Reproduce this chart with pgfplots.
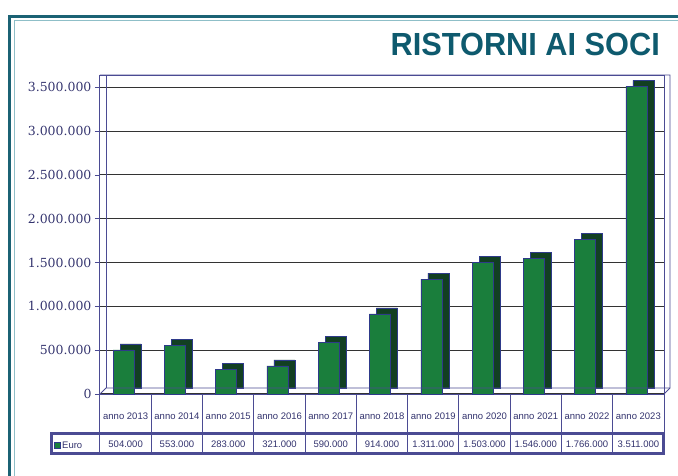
\documentclass[border=0pt]{standalone}
\usepackage{fontspec}
\setmainfont{Liberation Sans}
\newfontfamily\tickfont{DejaVu Serif}
\usepackage{pgfplots}
\usepackage{pgfplotstable}
\pgfplotsset{compat=1.18}

\definecolor{teal1}{HTML}{1B6274}
\definecolor{teal2}{HTML}{8FBFC8}
\definecolor{titleteal}{HTML}{0E5A6E}
\definecolor{barfront}{HTML}{1A7E3C}
\definecolor{barside}{HTML}{123F22}
\definecolor{navy}{HTML}{2E3A8A}
\definecolor{axisnavy}{HTML}{4B4B93}
\definecolor{labnavy}{HTML}{33336E}

% ristorni per anno, in euro
\pgfplotstableread{
x val
0 504000
1 553000
2 283000
3 321000
4 590000
5 914000
6 1311000
7 1503000
8 1546000
9 1766000
10 3511000
}\ristorni

\begin{document}
\begin{tikzpicture}[x=1pt,y=1pt]
\useasboundingbox (-100,-81) rectangle (578,394);
\fill[white] (-100,-81) rectangle (578,394);
\draw[teal1, line width=3pt] (-90,-120) rectangle (620,378);
\draw[teal2, line width=0.8pt] (-85.5,-120) rectangle (620,373.5);
\node[anchor=base east, text=titleteal, inner sep=0pt, xscale=0.96,
      font=\bfseries\fontsize{32}{32}\selectfont] at (560,338) {RISTORNI AI SOCI};

\begin{axis}[
    at={(0,0)}, anchor=south west,
    scale only axis, width=564pt, height=319pt,
    xmin=-0.5, xmax=10.5, ymin=0, ymax=3640000,
    axis line style={axisnavy, line width=1pt},
    ytick={0,500000,1000000,1500000,2000000,2500000,3000000,3500000},
    yticklabels={0,500.000,1.000.000,1.500.000,2.000.000,2.500.000,3.000.000,3.500.000},
    scaled y ticks=false,
    tick align=outside, ytick pos=left,
    major tick length=5pt,
    ytick style={axisnavy, line width=0.8pt},
    yticklabel style={font=\tickfont\fontsize{12.5}{14}\selectfont, text=labnavy},
    ymajorgrids,
    major grid style={black!80, line width=1.1pt},
    xtick={0,...,10},
    xticklabels={anno 2013,anno 2014,anno 2015,anno 2016,anno 2017,anno 2018,
        anno 2019,anno 2020,anno 2021,anno 2022,anno 2023},
    xtick style={draw=none},
    xticklabel style={anchor=center, yshift=-17pt, text=labnavy,
        font=\fontsize{9.5}{10}\selectfont},
    extra x ticks={0,...,10},
    extra x tick labels={504.000,553.000,283.000,321.000,590.000,914.000,
        1.311.000,1.503.000,1.546.000,1.766.000,3.511.000},
    extra x tick style={xticklabel style={yshift=-28pt}},
  ]
  \addplot[ybar, bar width=21pt, bar shift=-2pt, fill=barside, draw=navy,
           xshift=7pt, yshift=6pt] table[x=x, y=val] {\ristorni};
  \addplot[ybar, bar width=21pt, bar shift=-2pt, fill=barfront, draw=navy]
           table[x=x, y=val] {\ristorni};
\end{axis}

% back wall of the 3-D box
\draw[axisnavy, line width=0.8pt] (0,319) -- (570,319) -- (570,6) -- (564,0);
\draw[axisnavy, line width=0.8pt] (6,6) -- (6,319);
\draw[axisnavy, line width=0.8pt] (0,0) -- (6,6) -- (570,6);

% data table below the chart
\draw[axisnavy, line width=1pt]
  foreach \i in {0,...,11} {(\i*51.2727,0) -- (\i*51.2727,-60)};
\draw[axisnavy, line width=1.2pt] (-49,-39) rectangle (564,-60);
\draw[axisnavy, line width=0.6pt] (-47.5,-40.5) rectangle (562.5,-58.5);
\filldraw[fill=barfront, draw=navy] (-46,-54) rectangle (-40,-48);
\node[anchor=west, inner sep=1pt, text=labnavy, font=\fontsize{9.5}{10}\selectfont]
  at (-39,-51) {Euro};
\end{tikzpicture}
\end{document}
